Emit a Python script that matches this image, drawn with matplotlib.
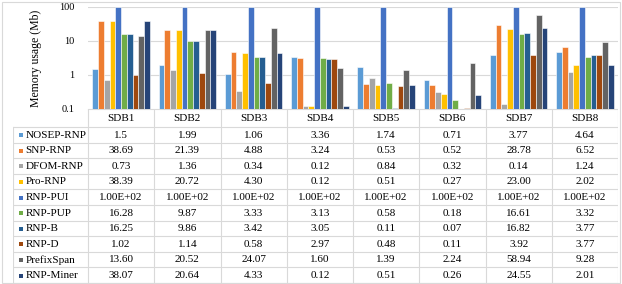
import matplotlib.pyplot as plt
import numpy as np

plt.rcParams["font.family"] = ["Liberation Serif", "DejaVu Serif"]

datasets = ["SDB1", "SDB2", "SDB3", "SDB4", "SDB5", "SDB6", "SDB7", "SDB8"]
methods = ["NOSEP-RNP", "SNP-RNP", "DFOM-RNP", "Pro-RNP", "RNP-PUI",
           "RNP-PUP", "RNP-B", "RNP-D", "PrefixSpan", "RNP-Miner"]

nosep_rnp = [1.5, 1.99, 1.06, 3.36, 1.74, 0.71, 3.77, 4.64]
snp_rnp = [38.69, 21.39, 4.88, 3.24, 0.53, 0.52, 28.78, 6.52]
dfom_rnp = [0.73, 1.36, 0.34, 0.12, 0.84, 0.32, 0.14, 1.24]
pro_rnp = [38.39, 20.72, 4.30, 0.12, 0.51, 0.27, 23.00, 2.02]
rnp_pui = [100, 100, 100, 100, 100, 100, 100, 100]
rnp_pup = [16.28, 9.87, 3.33, 3.13, 0.58, 0.18, 16.61, 3.32]
rnp_b = [16.25, 9.86, 3.42, 3.05, 0.11, 0.07, 16.82, 3.77]
rnp_d = [1.02, 1.14, 0.58, 2.97, 0.48, 0.11, 3.92, 3.77]
prefixspan = [13.60, 20.52, 24.07, 1.60, 1.39, 2.24, 58.94, 9.28]
rnp_miner = [38.07, 20.64, 4.33, 0.12, 0.51, 0.26, 24.55, 2.01]

series = [nosep_rnp, snp_rnp, dfom_rnp, pro_rnp, rnp_pui,
          rnp_pup, rnp_b, rnp_d, prefixspan, rnp_miner]
cell_text = [
    ["1.5", "1.99", "1.06", "3.36", "1.74", "0.71", "3.77", "4.64"],
    ["38.69", "21.39", "4.88", "3.24", "0.53", "0.52", "28.78", "6.52"],
    ["0.73", "1.36", "0.34", "0.12", "0.84", "0.32", "0.14", "1.24"],
    ["38.39", "20.72", "4.30", "0.12", "0.51", "0.27", "23.00", "2.02"],
    ["1.00E+02"] * 8,
    ["16.28", "9.87", "3.33", "3.13", "0.58", "0.18", "16.61", "3.32"],
    ["16.25", "9.86", "3.42", "3.05", "0.11", "0.07", "16.82", "3.77"],
    ["1.02", "1.14", "0.58", "2.97", "0.48", "0.11", "3.92", "3.77"],
    ["13.60", "20.52", "24.07", "1.60", "1.39", "2.24", "58.94", "9.28"],
    ["38.07", "20.64", "4.33", "0.12", "0.51", "0.26", "24.55", "2.01"],
]
colors = ["#5B9BD5", "#ED7D31", "#A5A5A5", "#FFC000", "#4472C4",
          "#70AD47", "#255E91", "#9E480E", "#636363", "#264478"]

GRID = "#D9D9D9"
W, H = 622, 284

fig = plt.figure(figsize=(W / 100, H / 100), dpi=100)

# outer frame
fig.patches.append(plt.Rectangle((1.5 / W, 1.5 / H), 1 - 4 / W, 1 - 3.5 / H,
                                 transform=fig.transFigure, fill=False,
                                 edgecolor=GRID, linewidth=0.8))

ax_left, ax_right = 88, 618
ax = fig.add_axes([ax_left / W, (H - 109) / H, (ax_right - ax_left) / W, 102 / H])
n = len(series)
bw = 0.865 / n
x = np.arange(len(datasets))
for i, vals in enumerate(series):
    ax.bar(x - 0.865 / 2 + bw * (i + 0.5), vals, width=bw, color=colors[i],
           edgecolor="white", linewidth=0.4, zorder=2)
ax.set_yscale("log")
ax.set_ylim(0.1, 100)
ax.set_xlim(-0.5, len(datasets) - 0.5)
ax.set_yticks([0.1, 1, 10, 100], ["0.1", "1", "10", "100"])
ax.minorticks_off()
ax.set_xticks([])
ax.tick_params(axis="y", length=0, pad=10, labelsize=7.5)
ax.grid(axis="y", color=GRID, linewidth=0.8, zorder=0)
ax.set_axisbelow(True)
for side in ["top", "right", "left", "bottom"]:
    ax.spines[side].set_visible(False)
ax.set_ylabel("Memory usage (Mb)", fontsize=8.5, labelpad=12)

# data table below
col_w = (ax_right - ax_left) / len(datasets)
label_w = (ax_left - 13) / col_w
tab = fig.add_axes([13 / W, 1 / H, (ax_right - 13) / W, 174 / H])
tab.set_xlim(-label_w, len(datasets))
header_h = 18
row_h = (174 - header_h) / len(methods)
tab.set_ylim(174, 0)
tab.axis("off")

# horizontal lines
tab.plot([0, len(datasets)], [0, 0], color=GRID, lw=0.8)
for r in range(len(methods) + 1):
    yy = header_h + r * row_h
    tab.plot([-label_w, len(datasets)], [yy, yy], color=GRID, lw=0.8)
# vertical lines
tab.plot([-label_w, -label_w], [header_h, 174], color=GRID, lw=0.8)
for c in range(len(datasets) + 1):
    tab.plot([c, c], [0, 174], color=GRID, lw=0.8)

for c, name in enumerate(datasets):
    tab.text(c + 0.5, header_h / 2 + 0.5, name, ha="center", va="center", fontsize=8)

for r, name in enumerate(methods):
    yc = header_h + (r + 0.5) * row_h + 0.3
    tab.scatter([-label_w + 0.12], [yc], marker="s", s=12, color=colors[r],
                linewidths=0, clip_on=False)
    tab.text(-label_w + 0.19, yc, name, ha="left", va="center", fontsize=8)
    for c in range(len(datasets)):
        tab.text(c + 0.5, yc, cell_text[r][c], ha="center", va="center", fontsize=8)

fig.savefig("out.png", dpi=100)
